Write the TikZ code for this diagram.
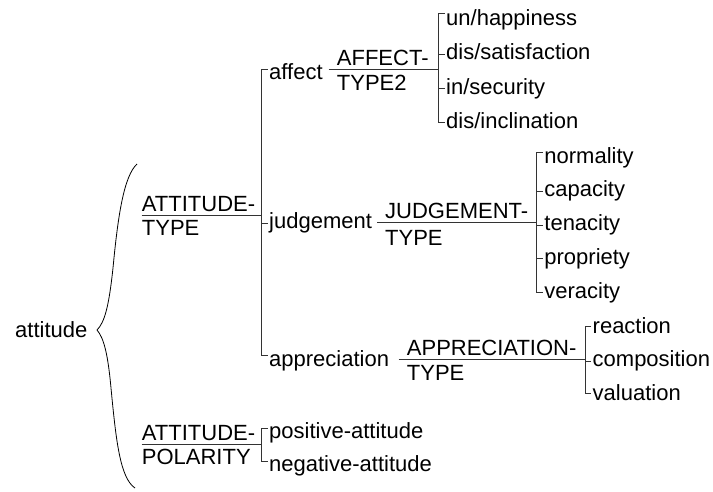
\documentclass[tikz,border=0pt]{standalone}
\usepackage{fontspec}
\setmainfont{Liberation Sans}
\tikzset{ t/.style = { anchor = west % term
        , inner sep = 0pt
        , text height = 16pt
        , text depth = 5pt
        }
        , s/.style = { anchor = base west % system name
        , inner sep = 0pt
        }
        }

\begin{document}
\begin{tikzpicture}[x=1pt, y=1pt, font=\fontsize{22}{26}\selectfont,
        rule_style/.style={draw=black!80, line width=1pt},
        brace_style/.style={draw=black, line width=0.8pt}]
        \useasboundingbox (0,0) rectangle (713,-491);

        % entry and brace
        \node [t](attitude) at (15,-332) {attitude};
        \coordinate (brtop) at (137,-164);
        \coordinate (brtip) at (97,-330);
        \coordinate (brbot) at (135,-488);
        \draw [brace_style] (brtop) .. controls (124,-176) and (118,-215) .. (113,-268) .. controls (109,-305) and (105,-322) .. (brtip);
        \draw [brace_style] (brtip) .. controls (104,-338) and (108,-355) .. (111,-388) .. controls (116,-440) and (120,-478) .. (brbot);

        % ATTITUDE-TYPE
        \node [s](atyA) at (141.7,-211.5) {ATTITUDE-};
        \node [s](atyB) at (141.7,-235.5) {TYPE};
        \coordinate (atyJ) at (261.5,-215);
        \draw [rule_style] ([yshift=-3.5]atyA.base west) -- (atyJ);
        \node [t](affect) at (269,-73.5) {affect};
        \node [t](judgement) at (269,-223) {judgement};
        \node [t](appreciation) at (269,-361) {appreciation};
        \draw [rule_style] ([shift={(-1.5,4.5)}]affect.west) -| ([shift={(-7.5,6)}]appreciation.west) -- ([shift={(-1.5,6)}]appreciation.west);
        \draw [rule_style] ([xshift=-1.5]judgement.west) -- ++(-6,0);

        % AFFECT-TYPE2
        \node [s](affA) at (336.7,-65.3) {AFFECT-};
        \node [s](affB) at (336.7,-90.5) {TYPE2};
        \coordinate (affJ) at (438.5,-69.3);
        \draw [rule_style] ([shift={(-8,-4)}]affA.base west) -- (affJ);
        \node [t](unhappy) at (446,-20) {un/happiness};
        \node [t](satisf) at (446,-54.3) {dis/satisfaction};
        \node [t](secur) at (446,-88.7) {in/security};
        \node [t](inclin) at (446,-123) {dis/inclination};
        \draw [rule_style] ([shift={(-1.5,6.7)}]unhappy.west) -| ([shift={(-7.5,0.3)}]inclin.west) -- ([shift={(-1.5,0.3)}]inclin.west);
        \foreach \n in {satisf,secur}
            \draw [rule_style] ([xshift=-1.5]\n.west) -- ++(-6,0);

        % JUDGEMENT-TYPE
        \node [s](judA) at (385,-218) {JUDGEMENT-};
        \node [s](judB) at (385,-245.3) {TYPE};
        \coordinate (judJ) at (536.7,-222.5);
        \draw [rule_style] ([shift={(-8,-4.5)}]judA.base west) -- (judJ);
        \node [t](normal) at (544.2,-157.5) {normality};
        \node [t](capac) at (544.2,-191.3) {capacity};
        \node [t](tenac) at (544.2,-225) {tenacity};
        \node [t](propr) at (544.2,-258.8) {propriety};
        \node [t](verac) at (544.2,-292.5) {veracity};
        \draw [rule_style] ([shift={(-1.5,4.8)}]normal.west) -| ([shift={(-7.5,0.2)}]verac.west) -- ([shift={(-1.5,0.2)}]verac.west);
        \foreach \n in {capac,tenac,propr}
            \draw [rule_style] ([xshift=-1.5]\n.west) -- ++(-6,0);

        % APPRECIATION-TYPE
        \node [s](appA) at (406.7,-355.5) {APPRECIATION-};
        \node [s](appB) at (406.7,-380) {TYPE};
        \coordinate (appJ) at (585,-359);
        \draw [rule_style] ([shift={(-8,-3.5)}]appA.base west) -- (appJ);
        \node [t](react) at (592.5,-328) {reaction};
        \node [t](compos) at (592.5,-361) {composition};
        \node [t](valu) at (592.5,-395) {valuation};
        \draw [rule_style] ([shift={(-1.5,2)}]react.west) -| ([shift={(-7.5,2)}]valu.west) -- ([shift={(-1.5,2)}]valu.west);
        \draw [rule_style] ([xshift=-1.5]compos.west) -- ++(-6,0);

        % ATTITUDE-POLARITY
        \node [s](polA) at (141.7,-440.5) {ATTITUDE-};
        \node [s](polB) at (141.7,-464.5) {POLARITY};
        \coordinate (polJ) at (261.5,-444);
        \draw [rule_style] ([yshift=-3.5]polA.base west) -- (polJ);
        \node [t](posit) at (269,-433) {positive-attitude};
        \node [t](negat) at (269,-466) {negative-attitude};
        \draw [rule_style] ([shift={(-1.5,5)}]posit.west) -| ([shift={(-7.5,5)}]negat.west) -- ([shift={(-1.5,5)}]negat.west);
\end{tikzpicture}
\end{document}
